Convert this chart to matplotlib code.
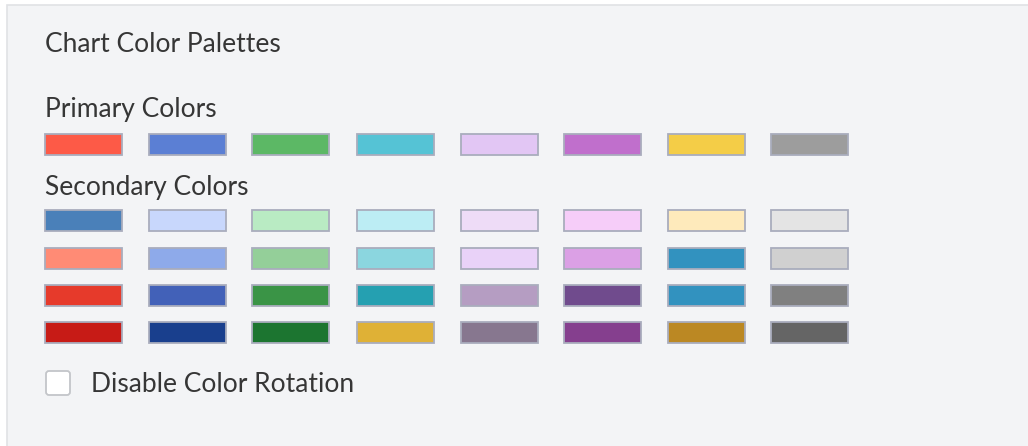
import matplotlib
matplotlib.use("Agg")
import matplotlib.pyplot as plt
from matplotlib.patches import FancyBboxPatch, Rectangle

title = "Chart Color Palettes"
primary_label = "Primary Colors"
secondary_label = "Secondary Colors"
checkbox_label = "Disable Color Rotation"

primary_colors = ["#fd5a47", "#5b7fd4", "#5cb865", "#55c3d5",
                  "#e2c6f4", "#c06fcc", "#f4cd47", "#9d9d9d"]
secondary_row1 = ["#4a80b9", "#c8d7fc", "#b9ebc3", "#bcedf4",
                  "#eedcf7", "#f6cdf9", "#feeabb", "#e4e4e4"]
secondary_row2 = ["#ff8b75", "#8eaaea", "#94cf99", "#8bd6df",
                  "#e9d2f8", "#dba0e5", "#3292bf", "#d0d0d0"]
secondary_row3 = ["#e63a2b", "#4261b8", "#3a9446", "#25a0b1",
                  "#b59dc2", "#704b8d", "#3292bf", "#808080"]
secondary_row4 = ["#c71b16", "#193f8d", "#1c7530", "#dfb136",
                  "#87778f", "#853f8e", "#bb8823", "#656565"]

W, H = 1028, 446
fig = plt.figure(figsize=(W / 100, H / 100), dpi=100)
fig.patch.set_facecolor("white")
ax = fig.add_axes([0, 0, 1, 1])
ax.set_xlim(0, W)
ax.set_ylim(H, 0)
ax.axis("off")

# panel
ax.add_patch(Rectangle((7, 5), W, H, facecolor="#f3f4f6",
                       edgecolor="#e0e2e5", linewidth=1.2))

font = "Lato"
txt = "#363636"
fs = 19
ax.text(45, 44, title, fontsize=fs, family=font, color=txt, va="center", ha="left")
ax.text(45, 110, primary_label, fontsize=fs, family=font, color=txt, va="center", ha="left")
ax.text(45, 188, secondary_label, fontsize=fs, family=font, color=txt, va="center", ha="left")

col_left = [45, 149, 252, 357, 461, 564, 668, 771]
sw_w = 77
sw_h = 21
rows = [(134, primary_colors), (210, secondary_row1), (248, secondary_row2),
        (285, secondary_row3), (322, secondary_row4)]
for top, colors in rows:
    ax.bar(col_left, [sw_h] * len(colors), width=sw_w, bottom=top, align="edge",
           color=colors, edgecolor="#a9adbd", linewidth=1.3)

# checkbox
ax.add_patch(FancyBboxPatch((46, 371), 24, 24, boxstyle="round,pad=0,rounding_size=3",
                            facecolor="white", edgecolor="#c3c5c9", linewidth=1.3))
ax.text(91, 384, checkbox_label, fontsize=fs, family=font, color=txt, va="center", ha="left")

fig.savefig("out.png", dpi=100, facecolor=fig.get_facecolor())
